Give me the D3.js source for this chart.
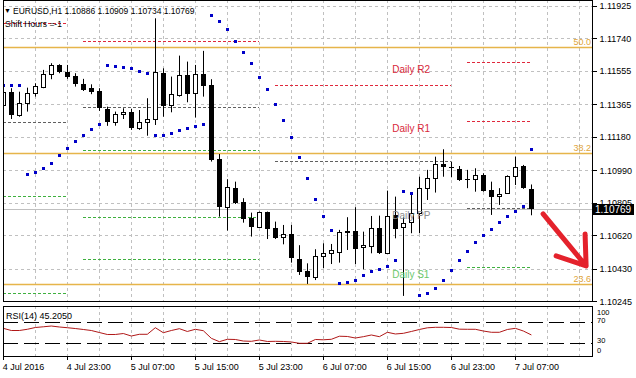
<!DOCTYPE html>
<html lang="en">
<head>
<meta charset="UTF-8">
<script src="https://cdn.jsdelivr.net/npm/d3@7"></script>
<style>
    body{margin:0;background:#fff;}
    svg text{font-family:"Liberation Sans",Arial,sans-serif;font-size:9px;fill:#000;}
    line.crisp{shape-rendering:crispEdges;}
</style>
<title>EURUSD H1</title>
</head>
<body>
<script>
// hourly bars from 4 Jul 15:00 (index 0) to 7 Jul 09:00 (index 66)
var opens = [1.11361,1.11436,1.11304,1.11370,1.11427,1.11465,1.11537,1.11588,1.11547,1.11526,
    1.11478,1.11456,1.11440,1.11336,1.11263,1.11308,1.11319,1.11228,1.11266,1.11280,
    1.11541,1.11361,1.11418,1.11531,1.11427,1.11535,1.11474,1.11054,1.10783,1.10888,
    1.10808,1.10717,1.10669,1.10751,1.10660,1.10613,1.10626,1.10486,1.10418,1.10385,
    1.10505,1.10518,1.10527,1.10638,1.10645,1.10552,1.10561,1.10660,1.10522,1.10736,
    1.10666,1.10698,1.10745,1.10888,1.10944,1.11026,1.11007,1.10995,1.10940,1.10939,
    1.10963,1.10878,1.10844,1.10859,1.10957,1.11014,1.10886];
var highs = [1.11457,1.11456,1.11436,1.11459,1.11484,1.11560,1.11598,1.11592,1.11588,1.11541,
    1.11509,1.11478,1.11456,1.11351,1.11323,1.11342,1.11338,1.11332,1.11399,1.11853,
    1.11569,1.11522,1.11641,1.11607,1.11588,1.11668,1.11507,1.11082,1.10939,1.10925,
    1.10831,1.10749,1.10755,1.10755,1.10698,1.10679,1.10679,1.10564,1.10461,1.10541,
    1.10575,1.10571,1.10651,1.10723,1.10780,1.10641,1.10730,1.10732,1.10874,1.10840,
    1.10724,1.10849,1.10953,1.10992,1.11067,1.11109,1.11039,1.11014,1.10992,1.11001,
    1.10973,1.10925,1.10888,1.10961,1.11067,1.11020,1.10909];
var lows = [1.11304,1.11281,1.11294,1.11323,1.11408,1.11456,1.11507,1.11541,1.11509,1.11465,
    1.11440,1.11422,1.11327,1.11242,1.11243,1.11281,1.11219,1.11219,1.11186,1.11247,
    1.11294,1.11319,1.11408,1.11376,1.11289,1.11408,1.11039,1.10726,1.10647,1.10798,
    1.10692,1.10613,1.10666,1.10599,1.10599,1.10569,1.10465,1.10395,1.10344,1.10366,
    1.10433,1.10457,1.10465,1.10537,1.10457,1.10427,1.10518,1.10514,1.10514,1.10603,
    1.10276,1.10632,1.10632,1.10821,1.10863,1.10953,1.10950,1.10929,1.10888,1.10868,
    1.10868,1.10736,1.10793,1.10855,1.10906,1.10884,1.10734];
var closes = [1.11433,1.11304,1.11370,1.11427,1.11470,1.11537,1.11588,1.11547,1.11522,1.11478,
    1.11446,1.11436,1.11342,1.11266,1.11310,1.11319,1.11228,1.11266,1.11280,1.11547,
    1.11357,1.11422,1.11531,1.11423,1.11535,1.11470,1.11048,1.10783,1.10893,1.10806,
    1.10713,1.10669,1.10751,1.10655,1.10607,1.10626,1.10490,1.10414,1.10385,1.10505,
    1.10518,1.10537,1.10638,1.10645,1.10543,1.10565,1.10660,1.10522,1.10730,1.10656,
    1.10692,1.10745,1.10888,1.10944,1.11026,1.11007,1.11003,1.10935,1.10938,1.10961,
    1.10874,1.10840,1.10855,1.10957,1.11007,1.10888,1.10769];
var sar = [1.11474,1.11474,1.11474,1.10967,1.10978,1.11005,1.11031,1.11075,1.11117,1.11158,
    1.11190,1.11224,1.11253,1.11588,1.11582,1.11575,1.11569,1.11554,1.11541,1.11190,
    1.11190,1.11202,1.11217,1.11228,1.11242,1.11253,1.11872,1.11838,1.11793,1.11724,
    1.11662,1.11599,1.11520,1.11452,1.11367,1.11276,1.11179,1.11065,1.10946,1.10827,
    1.10730,1.10651,1.10351,1.10355,1.10366,1.10395,1.10418,1.10429,1.10446,1.10480,
    1.10874,1.10863,1.10281,1.10294,1.10323,1.10366,1.10423,1.10480,1.10531,1.10581,
    1.10622,1.10656,1.10698,1.10730,1.10760,1.10787,1.11111];
var rsi = [58.2,53.9,53.9,56.3,59.8,61.2,62.7,60.8,59.4,57.8,
    55.9,53.9,50.0,46.1,46.1,48.0,43.1,46.5,46.5,59.4,
    49.6,53.9,57.5,52.0,56.3,53.5,38.6,32.0,36.7,36.3,
    33.3,32.7,35.3,32.4,32.7,32.4,31.4,28.8,28.8,36.3,
    35.7,36.7,42.7,42.2,39.2,41.8,45.1,41.8,50.4,47.1,
    48.4,52.0,55.9,59.2,60.2,60.2,59.8,56.5,56.3,56.3,
    52.9,50.4,50.4,55.9,58.2,52.9,45.2];

var timeTickBars = [0,8,16,24,32,40,48,56,64];
var timeLabels = ["4 Jul 2016","4 Jul 23:00","5 Jul 07:00","5 Jul 15:00","5 Jul 23:00",
    "6 Jul 07:00","6 Jul 15:00","6 Jul 23:00","7 Jul 07:00"];
var priceTicks = [1.11925,1.11740,1.11555,1.11365,1.11180,1.10990,1.10805,1.10620,1.10430,1.10245];
var rsiLevels = [70,30];
var rsiTickLabels = ["100","70","30","0"];

var fibLevels = [1.11692,1.11088,1.10342];
var fibLabels = ["50.0","38.2","23.6"];

// daily pivots: one entry per day
var dayStart = [0,10,34,58];
var dayEnd = [8,32,56,66];
var pivotR2 = [null,null,null,1.11605];
var pivotR1 = [1.11824,1.11724,1.11473,1.11272];
var pivotPP = [1.11263,1.11348,1.11041,1.10774];
var pivotS1 = [1.10844,1.11103,null,1.10442];
var pivotS2 = [1.10291,1.10726,null,null];
var pivotS3 = [null,1.10484,null,null];
var pivotNames = ["Daily R2","Daily R1","Daily PP","Daily S1"];
var pivotNameBar = 48.6;

// hand drawn arrow (bar, price)
var arrowBars = [67.46,72.84,72.71,72.84,69.09];
var arrowPrices = [1.10742,1.10446,1.10628,1.10446,1.10503];

var W = 636, H = 378;
var left = 3, right = 593, mainTop = 0, mainBottom = 301, rsiTop = 306, rsiBottom = 356;

var x = d3.scaleLinear().domain([0,73.7]).range([3.3,593]);
var y = d3.scaleLinear().domain([1.10247,1.11957]).range([301,0]);
var yr = d3.scaleLinear().domain([0,100]).range([358,307]);

var svg = d3.select("body").append("svg")
    .attr("width",W)
    .attr("height",H);

svg.append("clipPath").attr("id","mainclip")
    .append("rect").attr("x",left).attr("y",mainTop).attr("width",right-left).attr("height",mainBottom-mainTop);
svg.append("clipPath").attr("id","rsiclip")
    .append("rect").attr("x",left).attr("y",rsiTop).attr("width",right-left).attr("height",rsiBottom-rsiTop);

var main = svg.append("g").attr("clip-path","url(#mainclip)");
var sub = svg.append("g").attr("clip-path","url(#rsiclip)");

function px(v){ return Math.round(v)+0.5; }

// grid
var gridBars = d3.range(4,74,4);
[main,sub].forEach(function(g,k){
    g.selectAll(null)
        .data(gridBars)
        .enter().append("line")
        .attr("class","crisp")
        .attr("x1",function(d){ return px(x(d)); })
        .attr("x2",function(d){ return px(x(d)); })
        .attr("y1",k==0?mainTop:rsiTop)
        .attr("y2",k==0?mainBottom:rsiBottom)
        .attr("stroke","#c0c0c0")
        .attr("stroke-dasharray","3,3");
});
main.selectAll(null)
    .data(priceTicks)
    .enter().append("line")
    .attr("class","crisp")
    .attr("x1",left).attr("x2",right)
    .attr("y1",function(d){ return px(y(d)); })
    .attr("y2",function(d){ return px(y(d)); })
    .attr("stroke","#c0c0c0")
    .attr("stroke-dasharray","3,3");

// fibo levels
main.selectAll(null)
    .data(fibLevels)
    .enter().append("line")
    .attr("x1",left).attr("x2",right)
    .attr("y1",function(d){ return px(y(d)); })
    .attr("y2",function(d){ return px(y(d)); })
    .attr("stroke","#e6b54a")
    .attr("stroke-width",1.4);
main.selectAll(null)
    .data(fibLevels)
    .enter().append("text")
    .attr("x",right-2)
    .attr("y",function(d){ return y(d)-2; })
    .attr("text-anchor","end")
    .style("fill","#e0a43a")
    .text(function(d,i){ return fibLabels[i]; });

// current price line
main.append("line")
    .attr("class","crisp")
    .attr("x1",left).attr("x2",right)
    .attr("y1",px(y(closes[closes.length-1])))
    .attr("y2",px(y(closes[closes.length-1])))
    .attr("stroke","#c0c0c0");

// pivot segments
var pivotSets = [
    {vals:pivotR2,color:"#e0283c"},
    {vals:pivotR1,color:"#e0283c"},
    {vals:pivotPP,color:"#606060"},
    {vals:pivotS1,color:"#3fb03f"},
    {vals:pivotS2,color:"#3fb03f"},
    {vals:pivotS3,color:"#3fb03f"}
];
pivotSets.forEach(function(s){
    var segs = [];
    s.vals.forEach(function(v,i){ if(v!=null) segs.push({a:dayStart[i],b:dayEnd[i],v:v}); });
    main.selectAll(null)
        .data(segs)
        .enter().append("line")
        .attr("class","crisp")
        .attr("x1",function(d){ return Math.round(x(d.a)); })
        .attr("x2",function(d){ return Math.round(x(d.b)); })
        .attr("y1",function(d){ return px(y(d.v)); })
        .attr("y2",function(d){ return px(y(d.v)); })
        .attr("stroke",s.color)
        .attr("stroke-dasharray","3,2");
});

// candles
var bars = d3.range(opens.length);
var cg = main.selectAll(null)
    .data(bars)
    .enter().append("g");
cg.append("line")
    .attr("x1",function(i){ return px(x(i)); })
    .attr("x2",function(i){ return px(x(i)); })
    .attr("y1",function(i){ return y(highs[i]); })
    .attr("y2",function(i){ return y(lows[i]); })
    .attr("stroke","#000");
cg.append("rect")
    .attr("x",function(i){ return Math.round(x(i))-2+(closes[i]>=opens[i]?0.5:0); })
    .attr("width",function(i){ return closes[i]>=opens[i]?4:5; })
    .attr("y",function(i){ return Math.round(y(Math.max(opens[i],closes[i])))+(closes[i]>=opens[i]?0.5:0); })
    .attr("height",function(i){
        var h = Math.round(y(Math.min(opens[i],closes[i])))-Math.round(y(Math.max(opens[i],closes[i])));
        return Math.max(h, 1);
    })
    .attr("fill",function(i){ return closes[i]>=opens[i]?"#fff":"#000"; })
    .attr("stroke",function(i){ return closes[i]>=opens[i]?"#000":"none"; });

// parabolic SAR
main.selectAll(null)
    .data(sar)
    .enter().append("rect")
    .attr("x",function(d,i){ return Math.round(x(i))-1; })
    .attr("y",function(d){ return Math.round(y(d))-1; })
    .attr("width",3)
    .attr("height",3)
    .attr("fill","#0000c8");

// pivot names, drawn over the bars
var lastDay = dayStart.length-1;
var nameLevels = [pivotR2[lastDay],pivotR1[lastDay],pivotPP[lastDay],pivotS1[lastDay]];
var nameColors = ["#d8283a","#d8283a","#8a8a8a","#6cc86c"];
main.selectAll(null)
    .data(nameLevels)
    .enter().append("text")
    .attr("x",x(pivotNameBar))
    .attr("y",function(d){ return y(d)+11; })
    .style("font-size","10px")
    .style("fill",function(d,i){ return nameColors[i]; })
    .text(function(d,i){ return pivotNames[i]; });

// arrow
var arrowPts = arrowBars.map(function(b,i){ return [x(b),y(arrowPrices[i])]; });
var arrowPath = "M"+arrowPts[0]+"L"+arrowPts[1]+"L"+arrowPts[2]+"M"+arrowPts[3]+"L"+arrowPts[4];
svg.append("path")
    .attr("d",arrowPath)
    .attr("fill","none")
    .attr("stroke","#e4222c")
    .attr("stroke-width",5)
    .attr("stroke-linecap","round")
    .attr("stroke-linejoin","round");

// RSI
sub.selectAll(null)
    .data(rsiLevels)
    .enter().append("line")
    .attr("class","crisp")
    .attr("x1",left).attr("x2",right)
    .attr("y1",function(d){ return px(yr(d)); })
    .attr("y2",function(d){ return px(yr(d)); })
    .attr("stroke","#000")
    .attr("stroke-dasharray","15,6");
sub.append("path")
    .datum(rsi)
    .attr("d",d3.line().x(function(d,i){ return x(i); }).y(function(d){ return yr(d); }))
    .attr("fill","none")
    .attr("stroke","#b01818")
    .attr("stroke-width",1);

// frames
svg.append("rect").attr("x",left+0.5).attr("y",mainTop+0.5)
    .attr("width",right-left-1).attr("height",mainBottom-mainTop)
    .attr("fill","none").attr("stroke","#000");
svg.append("rect").attr("x",left+0.5).attr("y",rsiTop+0.5)
    .attr("width",right-left-1).attr("height",rsiBottom-rsiTop)
    .attr("fill","none").attr("stroke","#000");

// price axis
svg.selectAll(null)
    .data(priceTicks)
    .enter().append("line")
    .attr("x1",right).attr("x2",right+4)
    .attr("y1",function(d){ return px(y(d)); })
    .attr("y2",function(d){ return px(y(d)); })
    .attr("stroke","#000");
svg.selectAll(null)
    .data(priceTicks)
    .enter().append("text")
    .attr("x",right+6.5)
    .attr("y",function(d){ return y(d)+3.5; })
    .text(function(d){ return d3.format(".5f")(d); });

var last = closes[closes.length-1];
svg.append("rect")
    .attr("x",right).attr("y",Math.round(y(last))-5)
    .attr("width",41).attr("height",11)
    .attr("fill","#000");
svg.append("text")
    .attr("x",right+2)
    .attr("y",y(last)+4)
    .style("fill","#fff")
    .style("font-size","10px")
    .text(d3.format(".5f")(last));

// rsi axis labels
var rsiLabelY = [314.5,322.5,343,353];
svg.selectAll(null)
    .data(rsiTickLabels)
    .enter().append("text")
    .attr("x",right+4)
    .attr("y",function(d,i){ return rsiLabelY[i]; })
    .style("font-size","7.5px")
    .text(function(d){ return d; });

// time axis
svg.selectAll(null)
    .data(timeTickBars)
    .enter().append("line")
    .attr("x1",function(d){ return px(x(d)); })
    .attr("x2",function(d){ return px(x(d)); })
    .attr("y1",rsiBottom).attr("y2",rsiBottom+4)
    .attr("stroke","#000");
svg.selectAll(null)
    .data(timeTickBars)
    .enter().append("text")
    .attr("x",function(d){ return x(d)-0.5; })
    .attr("y",370)
    .text(function(d,i){ return timeLabels[i]; });

// headers
svg.append("text").attr("x",4).attr("y",13).style("font-size","7px").text("\u25BC");
svg.append("text").attr("x",13).attr("y",14).style("font-size","8.5px")
    .text("EURUSD,H1  1.10886 1.10909 1.10734 1.10769");
svg.append("text").attr("x",5).attr("y",27).style("font-size","8.5px").text("Shift Hours =-1");
svg.append("text").attr("x",6).attr("y",319).style("font-size","9px").text("RSI(14) 45.2050");
</script>
</body>
</html>
